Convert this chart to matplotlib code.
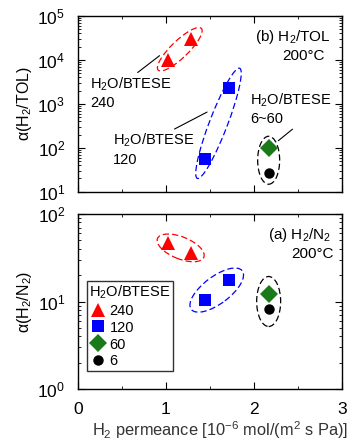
import matplotlib
matplotlib.use("Agg")
import matplotlib.pyplot as plt
from matplotlib.patches import Ellipse
from matplotlib.transforms import ScaledTranslation
from matplotlib.ticker import LogLocator
import numpy as np

plt.rcParams['font.family'] = ['Liberation Sans', 'DejaVu Sans']
plt.rcParams['mathtext.fontset'] = 'custom'
plt.rcParams['mathtext.rm'] = 'Liberation Sans'
plt.rcParams['mathtext.it'] = 'Liberation Sans'

# Data
groups = ["240", "120", "60", "6"]
colors = ["#ff0000", "#0000ff", "#1a7a1a", "#000000"]
markers = ["^", "s", "D", "o"]
perm = {"240": [1.03, 1.29], "120": [1.45, 1.72], "60": [2.17], "6": [2.17]}
sel_tol = {"240": [1.0e4, 3.0e4], "120": [55, 2.3e3], "60": [100], "6": [27]}
sel_n2 = {"240": [47, 35.5], "120": [10.3, 17.5], "60": [12.1], "6": [8.3]}
msize = {"240": 10, "120": 8.5, "60": 9, "6": 7.5}

fig = plt.figure(figsize=(3.47, 4.40), dpi=100)
W, H = 347, 440
axT = fig.add_axes([77.7 / W, 1 - 191.7 / H, (341.7 - 77.7) / W, (191.7 - 16) / H])
axB = fig.add_axes([77.7 / W, 1 - 389 / H, (341.7 - 77.7) / W, (389 - 214) / H])

for ax in (axT, axB):
    ax.set_yscale('log')
    ax.yaxis.set_major_locator(LogLocator(base=10, numticks=20))
    ax.yaxis.set_minor_locator(LogLocator(base=10, subs=np.arange(2, 10), numticks=20))
    ax.set_xlim(0, 3)
    ax.set_xticks([0, 1, 2, 3])
    ax.set_xticks([0.5, 1.5, 2.5], minor=True)
    ax.tick_params(which='both', direction='in', top=True, right=True, labelsize=12.5, pad=9)
    ax.tick_params(which='major', length=5, width=0.8)
    ax.tick_params(which='minor', length=2.5, width=0.6)
    for s in ax.spines.values():
        s.set_linewidth(1.0)

axT.set_ylim(10, 1e5)
axB.set_ylim(1, 100)
axT.tick_params(labelbottom=False)

for g, c, m in zip(groups, colors, markers):
    axT.plot(perm[g], sel_tol[g], linestyle='none', marker=m, color=c, markersize=msize[g], markeredgewidth=0)
    axB.plot(perm[g], sel_n2[g], linestyle='none', marker=m, color=c, markersize=msize[g], markeredgewidth=0,
             label=g)

def ell(ax, x, y, w, h, ang, col):
    tr = fig.dpi_scale_trans + ScaledTranslation(x, y, ax.transData)
    e = Ellipse((0, 0), w / 100, h / 100, angle=ang, fill=False, edgecolor=col,
                linestyle=(0, (5, 2.5)), linewidth=0.9, transform=tr)
    ax.add_patch(e)

# ellipses (size in px)
ell(axT, 1.16, 1.75e4, 60, 17, 44, 'red')
ell(axT, 1.60, 3.6e2, 118, 18, 69, 'blue')
ell(axT, 2.17, 52, 22, 48, 0, 'black')
ell(axB, 1.17, 41, 50, 22, -22, 'red')
ell(axB, 1.58, 13.5, 64, 27, 37, 'blue')
ell(axB, 2.17, 10, 24, 50, 0, 'black')

fs = 10.5
fs2 = 11
axT.text(0.96, 0.93, r'(b) H$_2$/TOL', transform=axT.transAxes, ha='right', va='top', fontsize=fs2)
axT.text(0.935, 0.81, '200°C', transform=axT.transAxes, ha='right', va='top', fontsize=fs2)
axB.text(0.96, 0.93, r'(a) H$_2$/N$_2$', transform=axB.transAxes, ha='right', va='top', fontsize=fs2)
axB.text(0.97, 0.81, '200°C', transform=axB.transAxes, ha='right', va='top', fontsize=fs2)

axT.annotate('H$_2$O/BTESE\n240', xy=(0.93, 1.25e4), xytext=(0.14, 1.8e3), fontsize=fs,
             ha='left', va='center', linespacing=1.3,
             arrowprops=dict(arrowstyle='-', color='black', lw=0.8, shrinkA=0, shrinkB=0,
                             relpos=(0.54, 1.0)))
axT.annotate('H$_2$O/BTESE\n120', xy=(1.47, 6.5e2), xytext=(0.40, 93), fontsize=fs,
             ha='left', va='center', linespacing=1.3,
             arrowprops=dict(arrowstyle='-', color='black', lw=0.8, shrinkA=0, shrinkB=0,
                             relpos=(0.69, 1.0)))
axT.annotate('H$_2$O/BTESE\n6~60', xy=(2.28, 1.45e2), xytext=(1.96, 7.6e2), fontsize=fs,
             ha='left', va='center', linespacing=1.3,
             arrowprops=dict(arrowstyle='-', color='black', lw=0.8, shrinkA=0, shrinkB=0,
                             relpos=(0.56, 0.0)))

axT.set_ylabel(r'$\alpha$(H$_2$/TOL)', fontsize=11.5)
axB.set_ylabel(r'$\alpha$(H$_2$/N$_2$)', fontsize=11.5)
axT.yaxis.set_label_coords(-0.165, 0.5)
axB.yaxis.set_label_coords(-0.165, 0.5)
axB.set_xlabel(r'H$_2$ permeance [10$^{-6}$ mol/(m$^2$ s Pa)]', fontsize=11.8, color='#333333')
axB.xaxis.set_label_coords(0.54, -0.172)

leg = axB.legend(title='H$_2$O/BTESE', loc='lower left', bbox_to_anchor=(0.035, 0.105), fontsize=fs,
                 title_fontsize=fs, frameon=True, fancybox=False, edgecolor='black',
                 borderpad=0.15, labelspacing=0.2, handletextpad=0.2, handlelength=1.2,
                 borderaxespad=0)
leg.get_frame().set_linewidth(1.0)
leg._legend_box.align = 'left'

fig.savefig('out.png', dpi=100)
